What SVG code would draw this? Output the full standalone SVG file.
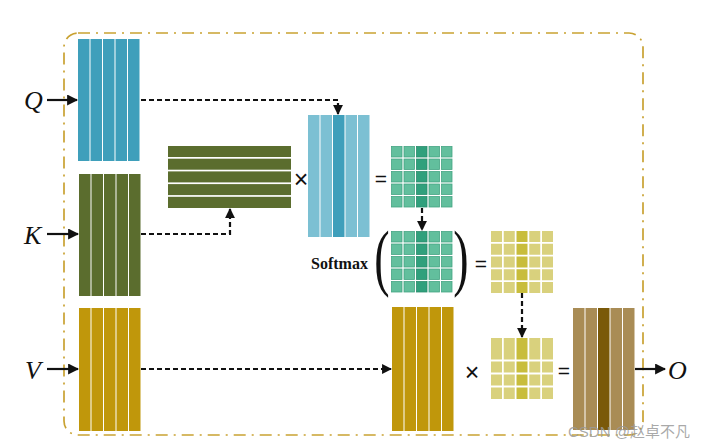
<svg xmlns="http://www.w3.org/2000/svg" width="720" height="448" viewBox="0 0 720 448">
<defs>
<style>
.frame{fill:none;stroke:#c9a232;stroke-width:1.7;stroke-dasharray:12 6 2 6}
.dash{fill:none;stroke:#111;stroke-width:2.2;stroke-dasharray:5 3}
.solid{fill:none;stroke:#111;stroke-width:2.2}
.lbl{font-family:"Liberation Serif",serif;font-style:italic;font-size:26px;fill:#111}
.op{font-family:"Liberation Sans",sans-serif;font-size:21px;fill:#111;text-anchor:middle;dominant-baseline:central}
.x{font-size:25px}
.par{font-family:"Liberation Serif",serif;font-size:46px;fill:#111;text-anchor:middle}
.sm{font-family:"Liberation Serif",serif;font-weight:bold;font-size:16px;fill:#111}
.q{fill:#3f9fbb}.ql{fill:#7cc0d3}
.k{fill:#5b6d2e}
.v{fill:#c0970b}
.g{fill:#62bf9d;stroke:#45a583;stroke-width:0.8}.gd{fill:#30a07c;stroke:#2a8c6c;stroke-width:0.8}
.y{fill:#d9d17d}.yd{fill:#c8bd3c}
.o{fill:#a98c55}.od{fill:#7a5909}
.wm{font-family:"Liberation Sans","Noto Sans CJK SC",sans-serif;font-size:15px;fill:#9a9a9a;fill-opacity:0.85}
</style>
<marker id="ah" viewBox="0 0 10 10" refX="9" refY="5" markerWidth="5" markerHeight="5" orient="auto"><path d="M0,0 L10,5 L0,10 z" fill="#111"/></marker>
<marker id="ahs" viewBox="0 0 10 10" refX="9" refY="5" markerWidth="4.5" markerHeight="4.5" orient="auto"><path d="M0,0 L10,5 L0,10 z" fill="#111"/></marker>
</defs>
<rect width="720" height="448" fill="#fff"/>
<rect class="frame" x="64" y="33" width="579" height="402" rx="14"/>

<g id="Q">
<rect class="q" x="78" y="39" width="11.5" height="122"/><rect class="q" x="90.5" y="39" width="11.5" height="122"/><rect class="q" x="103" y="39" width="11.5" height="122"/><rect class="q" x="115.5" y="39" width="11.5" height="122"/><rect class="q" x="128" y="39" width="11.5" height="122"/>
<text class="lbl" x="24" y="109">Q</text>
</g>
<g id="K">
<rect class="k" x="79" y="174" width="11.5" height="122"/><rect class="k" x="91.5" y="174" width="11.5" height="122"/><rect class="k" x="104" y="174" width="11.5" height="122"/><rect class="k" x="116.5" y="174" width="11.5" height="122"/><rect class="k" x="129" y="174" width="11.5" height="122"/>
<text class="lbl" x="24" y="244">K</text>
</g>
<g id="V">
<rect class="v" x="79" y="308" width="11.5" height="123"/><rect class="v" x="91.5" y="308" width="11.5" height="123"/><rect class="v" x="104" y="308" width="11.5" height="123"/><rect class="v" x="116.5" y="308" width="11.5" height="123"/><rect class="v" x="129" y="308" width="11.5" height="123"/>
<text class="lbl" x="25" y="379">V</text>
</g>
<g id="KT">
<rect class="k" x="168" y="146" width="123" height="11"/><rect class="k" x="168" y="158.7" width="123" height="11"/><rect class="k" x="168" y="171.4" width="123" height="11"/><rect class="k" x="168" y="184.1" width="123" height="11"/><rect class="k" x="168" y="196.8" width="123" height="11.2"/>
</g>
<g id="times1"><text class="op x" x="301" y="179">×</text></g>
<g id="Qp">
<rect class="ql" x="308" y="115" width="11.5" height="122"/><rect class="ql" x="320.5" y="115" width="11.5" height="122"/><rect class="q" x="333" y="115" width="11.5" height="122"/><rect class="ql" x="345.5" y="115" width="11.5" height="122"/><rect class="ql" x="358" y="115" width="11.5" height="122"/>
</g>
<g id="eq1"><text class="op" x="381" y="178">=</text></g>
<g id="S">
<g transform="translate(391,146)">
<rect class="g" x="0.5" y="0.5" width="10.5" height="10.5"/><rect class="g" x="13" y="0.5" width="10.5" height="10.5"/><rect class="gd" x="25.5" y="0.5" width="10.5" height="10.5"/><rect class="g" x="38" y="0.5" width="10.5" height="10.5"/><rect class="g" x="50.5" y="0.5" width="10.5" height="10.5"/>
<rect class="g" x="0.5" y="13" width="10.5" height="10.5"/><rect class="g" x="13" y="13" width="10.5" height="10.5"/><rect class="gd" x="25.5" y="13" width="10.5" height="10.5"/><rect class="g" x="38" y="13" width="10.5" height="10.5"/><rect class="g" x="50.5" y="13" width="10.5" height="10.5"/>
<rect class="g" x="0.5" y="25.5" width="10.5" height="10.5"/><rect class="g" x="13" y="25.5" width="10.5" height="10.5"/><rect class="gd" x="25.5" y="25.5" width="10.5" height="10.5"/><rect class="g" x="38" y="25.5" width="10.5" height="10.5"/><rect class="g" x="50.5" y="25.5" width="10.5" height="10.5"/>
<rect class="g" x="0.5" y="38" width="10.5" height="10.5"/><rect class="g" x="13" y="38" width="10.5" height="10.5"/><rect class="gd" x="25.5" y="38" width="10.5" height="10.5"/><rect class="g" x="38" y="38" width="10.5" height="10.5"/><rect class="g" x="50.5" y="38" width="10.5" height="10.5"/>
<rect class="g" x="0.5" y="50.5" width="10.5" height="10.5"/><rect class="g" x="13" y="50.5" width="10.5" height="10.5"/><rect class="gd" x="25.5" y="50.5" width="10.5" height="10.5"/><rect class="g" x="38" y="50.5" width="10.5" height="10.5"/><rect class="g" x="50.5" y="50.5" width="10.5" height="10.5"/>
</g>
</g>
<g id="softmax">
<text class="sm" x="311" y="269">Softmax</text>
<text class="par" transform="translate(382,282) scale(1,1.6)">(</text>
<text class="par" transform="translate(461,282) scale(1,1.6)">)</text>
<g transform="translate(391,231)">
<rect class="g" x="0.5" y="0.5" width="10.5" height="10.5"/><rect class="g" x="13" y="0.5" width="10.5" height="10.5"/><rect class="gd" x="25.5" y="0.5" width="10.5" height="10.5"/><rect class="g" x="38" y="0.5" width="10.5" height="10.5"/><rect class="g" x="50.5" y="0.5" width="10.5" height="10.5"/>
<rect class="g" x="0.5" y="13" width="10.5" height="10.5"/><rect class="g" x="13" y="13" width="10.5" height="10.5"/><rect class="gd" x="25.5" y="13" width="10.5" height="10.5"/><rect class="g" x="38" y="13" width="10.5" height="10.5"/><rect class="g" x="50.5" y="13" width="10.5" height="10.5"/>
<rect class="g" x="0.5" y="25.5" width="10.5" height="10.5"/><rect class="g" x="13" y="25.5" width="10.5" height="10.5"/><rect class="gd" x="25.5" y="25.5" width="10.5" height="10.5"/><rect class="g" x="38" y="25.5" width="10.5" height="10.5"/><rect class="g" x="50.5" y="25.5" width="10.5" height="10.5"/>
<rect class="g" x="0.5" y="38" width="10.5" height="10.5"/><rect class="g" x="13" y="38" width="10.5" height="10.5"/><rect class="gd" x="25.5" y="38" width="10.5" height="10.5"/><rect class="g" x="38" y="38" width="10.5" height="10.5"/><rect class="g" x="50.5" y="38" width="10.5" height="10.5"/>
<rect class="g" x="0.5" y="50.5" width="10.5" height="10.5"/><rect class="g" x="13" y="50.5" width="10.5" height="10.5"/><rect class="gd" x="25.5" y="50.5" width="10.5" height="10.5"/><rect class="g" x="38" y="50.5" width="10.5" height="10.5"/><rect class="g" x="50.5" y="50.5" width="10.5" height="10.5"/>
</g>
</g>
<g id="eq2"><text class="op" x="481" y="263">=</text></g>
<g id="A">
<g transform="translate(491,231)">
<rect class="y" x="0" y="0" width="11" height="11"/><rect class="y" x="12.75" y="0" width="11" height="11"/><rect class="yd" x="25.5" y="0" width="11" height="11"/><rect class="y" x="38.25" y="0" width="11" height="11"/><rect class="y" x="51" y="0" width="11" height="11"/>
<rect class="y" x="0" y="12.75" width="11" height="11"/><rect class="y" x="12.75" y="12.75" width="11" height="11"/><rect class="yd" x="25.5" y="12.75" width="11" height="11"/><rect class="y" x="38.25" y="12.75" width="11" height="11"/><rect class="y" x="51" y="12.75" width="11" height="11"/>
<rect class="y" x="0" y="25.5" width="11" height="11"/><rect class="y" x="12.75" y="25.5" width="11" height="11"/><rect class="yd" x="25.5" y="25.5" width="11" height="11"/><rect class="y" x="38.25" y="25.5" width="11" height="11"/><rect class="y" x="51" y="25.5" width="11" height="11"/>
<rect class="y" x="0" y="38.25" width="11" height="11"/><rect class="y" x="12.75" y="38.25" width="11" height="11"/><rect class="yd" x="25.5" y="38.25" width="11" height="11"/><rect class="y" x="38.25" y="38.25" width="11" height="11"/><rect class="y" x="51" y="38.25" width="11" height="11"/>
<rect class="y" x="0" y="51" width="11" height="11"/><rect class="y" x="12.75" y="51" width="11" height="11"/><rect class="yd" x="25.5" y="51" width="11" height="11"/><rect class="y" x="38.25" y="51" width="11" height="11"/><rect class="y" x="51" y="51" width="11" height="11"/>
</g>
</g>
<g id="Vp">
<rect class="v" x="392" y="307" width="11.5" height="124"/><rect class="v" x="404.5" y="307" width="11.5" height="124"/><rect class="v" x="417" y="307" width="11.5" height="124"/><rect class="v" x="429.5" y="307" width="11.5" height="124"/><rect class="v" x="442" y="307" width="11.5" height="124"/>
</g>
<g id="times2"><text class="op x" x="472" y="372">×</text></g>
<g id="A2">
<g transform="translate(491,338)">
<rect class="y" x="0" y="0" width="11" height="21.5"/><rect class="y" x="12.75" y="0" width="11" height="21.5"/><rect class="yd" x="25.5" y="0" width="11" height="21.5"/><rect class="y" x="38.25" y="0" width="11" height="21.5"/><rect class="y" x="51" y="0" width="11" height="21.5"/>
<rect class="y" x="0" y="23.5" width="11" height="11"/><rect class="y" x="12.75" y="23.5" width="11" height="11"/><rect class="yd" x="25.5" y="23.5" width="11" height="11"/><rect class="y" x="38.25" y="23.5" width="11" height="11"/><rect class="y" x="51" y="23.5" width="11" height="11"/>
<rect class="y" x="0" y="36.5" width="11" height="11"/><rect class="y" x="12.75" y="36.5" width="11" height="11"/><rect class="yd" x="25.5" y="36.5" width="11" height="11"/><rect class="y" x="38.25" y="36.5" width="11" height="11"/><rect class="y" x="51" y="36.5" width="11" height="11"/>
<rect class="y" x="0" y="49.5" width="11" height="11.5"/><rect class="y" x="12.75" y="49.5" width="11" height="11.5"/><rect class="yd" x="25.5" y="49.5" width="11" height="11.5"/><rect class="y" x="38.25" y="49.5" width="11" height="11.5"/><rect class="y" x="51" y="49.5" width="11" height="11.5"/>
</g>
</g>
<g id="eq3"><text class="op" x="564" y="370">=</text></g>
<g id="O">
<rect class="o" x="573" y="308" width="11.5" height="122"/><rect class="o" x="585.5" y="308" width="11.5" height="122"/><rect class="od" x="598" y="308" width="11.5" height="122"/><rect class="o" x="610.5" y="308" width="11.5" height="122"/><rect class="o" x="623" y="308" width="11.5" height="122"/>
<text class="lbl" x="668" y="379">O</text>
</g>

<g id="connectors">
<line class="solid" x1="47" y1="100" x2="77" y2="100" marker-end="url(#ah)"/>
<line class="solid" x1="47" y1="234" x2="78" y2="234" marker-end="url(#ah)"/>
<line class="solid" x1="47" y1="369" x2="78" y2="369" marker-end="url(#ah)"/>
<line class="solid" x1="635" y1="369" x2="665" y2="369" marker-end="url(#ah)"/>
<path class="dash" d="M141,100 H338 V114" marker-end="url(#ahs)"/>
<path class="dash" d="M141,234 H230 V209" marker-end="url(#ahs)"/>
<path class="dash" d="M422,208 V230" marker-end="url(#ahs)"/>
<path class="dash" d="M522,293 V337" marker-end="url(#ahs)"/>
<path class="dash" d="M141,369 H391" marker-end="url(#ahs)"/>
</g>
<text class="wm" x="568" y="437">CSDN @赵卓不凡</text>
</svg>
